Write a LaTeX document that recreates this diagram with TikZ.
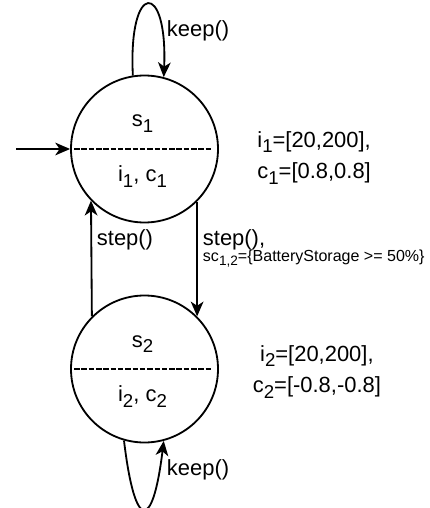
\documentclass[tikz,border=0pt]{standalone}
\usepackage{fontspec}
\setmainfont{Liberation Sans}
\usepackage{graphicx}
\usetikzlibrary{positioning,arrows.meta}
\newcommand{\lo}[1]{\raisebox{-0.25em}{\scalebox{0.85}{#1}}}
\tikzset{
  state/.style   ={circle, draw, line width=1.3pt, minimum size=3.675cm, inner sep=0pt},
  txt/.style     ={font=\fontsize{15.6pt}{22.5pt}\selectfont, inner sep=0pt},
  small/.style   ={font=\fontsize{11.4pt}{13pt}\selectfont, inner sep=0pt},
  flowarr/.style ={-{Stealth[length=10.5pt,width=9pt,inset=3pt]}, line width=1.3pt},
  divider/.style ={line width=1.2pt, dash pattern=on 3.9pt off 1.3pt, shorten <=0.1cm, shorten >=0.17cm},
}
\begin{document}
\begin{tikzpicture}
\useasboundingbox (-3.6125,-8.975) rectangle (7.1375,3.725);
% states
\node[state] (s1) at (0,0) {};
\node[state] (s2) at (0,-5.5) {};
\draw[divider] (s1.west) -- (s1.east);
\draw[divider] (s2.west) -- (s2.east);
\node[txt, anchor=base] (s1n) at (-0.05,0.55) {s\lo{1}};
\node[txt, anchor=base] (s1p) at (-0.05,-0.82) {i\lo{1}, c\lo{1}};
\node[txt, anchor=base] (s2n) at (-0.05,-4.95) {s\lo{2}};
\node[txt, anchor=base] (s2p) at (-0.05,-6.32) {i\lo{2}, c\lo{2}};
% initial arrow
\coordinate (init) at (-3.2,0);
\draw[flowarr] (init) -- (s1.west);
% self loops
\draw[flowarr] (s1.99) .. controls +(-0.12,2.375) and +(0.1,2.425) .. (s1.75.4);
\draw[flowarr] (s2.-106.5) .. controls +(0.275,-2.3) and +(-0.275,-2.25) .. (s2.-75.4);
% steps
\draw[flowarr] (s2.135.9) -- (s1.224.1);
\draw[flowarr] (s1.-45.5) -- (s2.45.5);
% labels
\node[txt, anchor=base west] (keep1) at (0.555,2.81) {keep()};
\node[txt, anchor=base west] (keep2) at (0.555,-8.15) {keep()};
\node[txt, anchor=base west] (stepl) at (-1.195,-2.4) {step()};
\node[txt, anchor=base west] (stepr) at (1.455,-2.4) {step(),};
\node[small, anchor=base west] (guard) at (1.455,-2.8) {sc\lo{1,2}=\{BatteryStorage >= 50\%\}};
% intervals
\node[txt, align=center] (int1) at (4.24,-0.22) {i\lo{1}=[20,200],\\c\lo{1}=[0.8,0.8]};
\node[txt, align=center] (int2) at (4.31,-5.57) {i\lo{2}=[20,200],\\c\lo{2}=[-0.8,-0.8]};
\end{tikzpicture}
\end{document}
